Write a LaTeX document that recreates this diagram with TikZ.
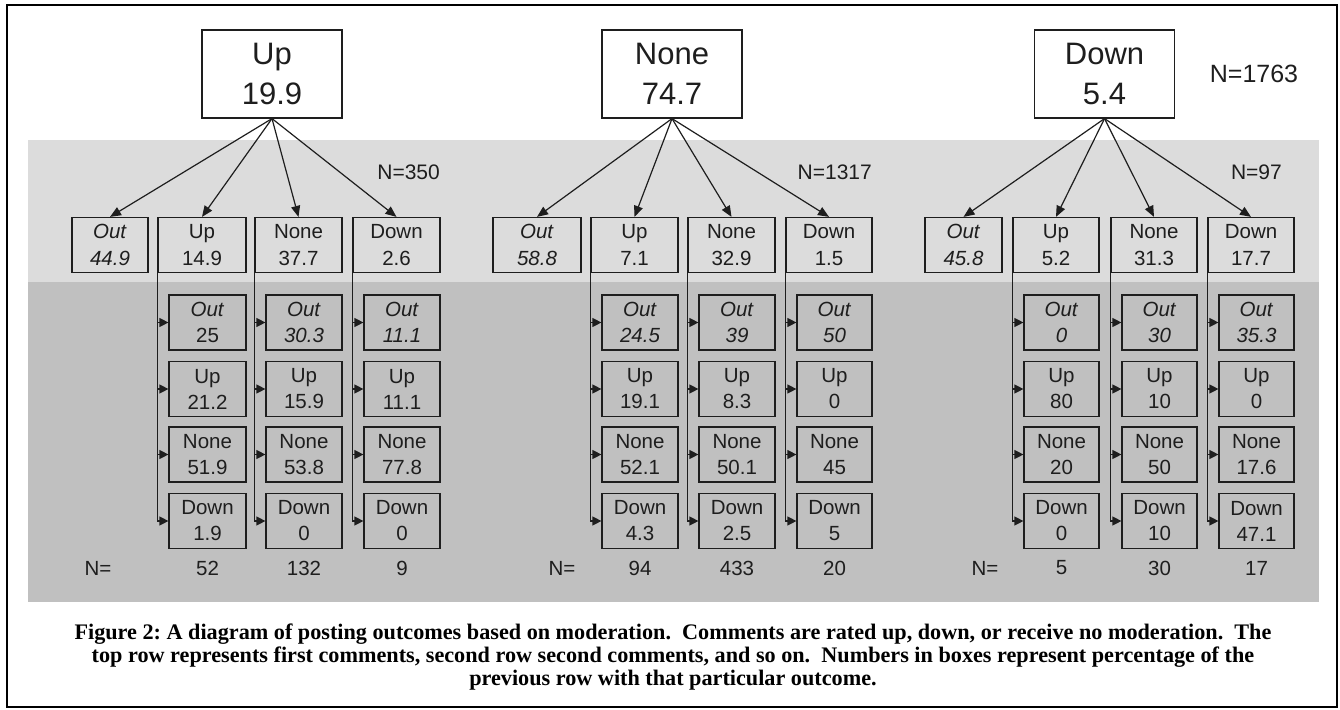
\documentclass[tikz,border=0pt]{standalone}
\usepackage{fontspec}
\setmainfont{Liberation Sans}
\newfontfamily\capfont{Liberation Serif}
\usetikzlibrary{arrows.meta,calc}
\definecolor{lightband}{HTML}{DCDCDC}
\definecolor{darkband}{HTML}{C0C0C0}
\definecolor{ink}{HTML}{1E1E1E}
\tikzset{
  boxline/.style={draw=ink, line width=1.2pt},
  topbox/.style={boxline, fill=white, minimum width=140, minimum height=88, inner sep=0pt, align=center, text=ink, font=\fontsize{31}{40}\selectfont},
  midbox/.style={boxline, minimum height=55, inner sep=0pt, align=center, text=ink, font=\fontsize{20.5}{27}\selectfont},
  subbox/.style={boxline, minimum height=55, inner sep=0pt, align=center, text=ink, font=\fontsize{20.5}{26}\selectfont},
  lab/.style={inner sep=0pt, text=ink, font=\fontsize{20.5}{24}\selectfont},
  arr/.style={draw=ink, line width=1.2pt, -{Triangle[length=11pt,width=9pt]}},
  sarr/.style={draw=ink, line width=1.2pt, -{Triangle[length=9pt,width=9pt]}},
  vline/.style={draw=ink, line width=1.2pt},
}
% #1 parent name, #2 left x, #3 right x, #4 out, #5 up, #6 none, #7 down, #8 N value
\newcommand\subcolumn[8]{%
  \pgfmathsetmacro\sbx{(#2+11+#3)/2}%
  \pgfmathsetmacro\sbw{#3-#2-11}%
  \node[subbox, minimum width=\sbw] (#1o) at (\sbx,322.5) {\textit{Out}\\#4};
  \node[subbox, minimum width=\sbw] (#1u) at (\sbx,389) {Up\\#5};
  \node[subbox, minimum width=\sbw] (#1n) at (\sbx,454.5) {None\\#6};
  \node[subbox, minimum width=\sbw] (#1d) at (\sbx,521) {Down\\#7};
  \draw[vline] (#1.south west) -- (#1.south west |- #1d.west);
  \foreach \s in {o,u,n,d} {\draw[sarr] (#1.south west |- #1\s.west) -- (#1\s.west);}
  \node[lab] (#1N) at (\sbx,568) {#8};
}
\begin{document}
\begin{tikzpicture}[x=1pt,y=-1pt]
\useasboundingbox (0,0) rectangle (1340,709);
% frame and bands
\draw[line width=2pt] (7,5) rectangle (1337,707);
\fill[lightband] (28,140) rectangle (1319,282);
\fill[darkband] (28,282) rectangle (1319,602);

% ---------- group 1 ----------
\node[topbox] (g1) at (272,74) {Up\\19.9};
\node[lab, anchor=east, font=\fontsize{21}{24}\selectfont] (g1N) at (440,172) {N=350};
\node[midbox, minimum width=76] (g1o) at (110,245) {\textit{Out}\\\textit{44.9}};
\node[midbox, minimum width=88] (g1u) at (202,245) {Up\\14.9};
\node[midbox, minimum width=87] (g1n) at (298.5,245) {None\\37.7};
\node[midbox, minimum width=87] (g1d) at (396.5,245) {Down\\2.6};
\foreach \c in {o,u,n,d} {\draw[arr] (g1.south) -- (g1\c.north);}
\subcolumn{g1u}{158}{246}{25}{21.2}{51.9}{1.9}{52}
\subcolumn{g1n}{255}{342}{\textit{30.3}}{15.9}{53.8}{0}{132}
\subcolumn{g1d}{353}{440}{\textit{11.1}}{11.1}{77.8}{0}{9}
\node[lab] (g1Nlab) at (98,568) {N=};

% ---------- group 2 ----------
\node[topbox] (g2) at (672,74) {None\\74.7};
\node[lab, anchor=east, font=\fontsize{21}{24}\selectfont] (g2N) at (872,172) {N=1317};
\node[midbox, minimum width=88] (g2o) at (537,245) {\textit{Out}\\\textit{58.8}};
\node[midbox, minimum width=87] (g2u) at (634.5,245) {Up\\7.1};
\node[midbox, minimum width=87] (g2n) at (731.5,245) {None\\32.9};
\node[midbox, minimum width=86] (g2d) at (829,245) {Down\\1.5};
\foreach \c in {o,u,n,d} {\draw[arr] (g2.south) -- (g2\c.north);}
\subcolumn{g2u}{591}{678}{\textit{24.5}}{19.1}{52.1}{4.3}{94}
\subcolumn{g2n}{688}{775}{\textit{39}}{8.3}{50.1}{2.5}{433}
\subcolumn{g2d}{786}{872}{\textit{50}}{0}{45}{5}{20}
\node[lab] (g2Nlab) at (562,568) {N=};

% ---------- group 3 ----------
\node[topbox] (g3) at (1104.5,74) {Down\\5.4};
\node[inner sep=0pt, text=ink, font=\fontsize{25}{28}\selectfont] (gN) at (1254,74) {N=1763};
\node[lab, anchor=east, font=\fontsize{21}{24}\selectfont] (g3N) at (1282,172) {N=97};
\node[midbox, minimum width=77] (g3o) at (963.5,245) {\textit{Out}\\\textit{45.8}};
\node[midbox, minimum width=86] (g3u) at (1056,245) {Up\\5.2};
\node[midbox, minimum width=86] (g3n) at (1154,245) {None\\31.3};
\node[midbox, minimum width=86] (g3d) at (1251,245) {Down\\17.7};
\foreach \c in {o,u,n,d} {\draw[arr] (g3.south) -- (g3\c.north);}
\subcolumn{g3u}{1013}{1099}{\textit{0}}{80}{20}{0}{5}
\subcolumn{g3n}{1111}{1197}{\textit{30}}{10}{50}{10}{30}
\subcolumn{g3d}{1208}{1294}{\textit{35.3}}{0}{17.6}{47.1}{17}
\node[lab] (g3Nlab) at (985,568) {N=};

% ---------- caption ----------
\node[align=center, inner sep=0pt, font=\capfont\bfseries\fontsize{22.2}{23}\selectfont\frenchspacing] (cap) at (673,657)
 {Figure 2: A diagram of posting outcomes based on moderation.\ \ Comments are rated up, down, or receive no moderation.\ \ The\\
  top row represents first comments, second row second comments, and so on.\ \ Numbers in boxes represent percentage of the\\
  previous row with that particular outcome.};
\end{tikzpicture}
\end{document}
